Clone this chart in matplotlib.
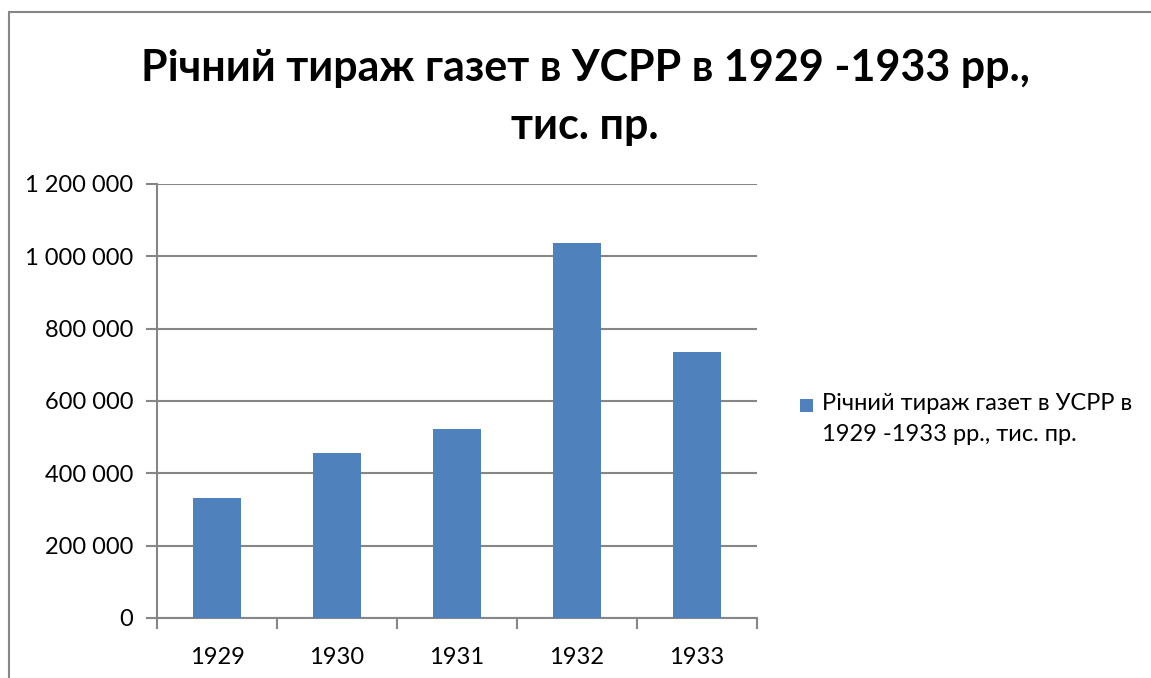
import matplotlib
matplotlib.use("Agg")
import matplotlib.pyplot as plt
from matplotlib.ticker import FuncFormatter, FixedLocator
from matplotlib.patches import Rectangle


TITLE = "Річний тираж газет в УСРР в 1929 -1933 рр.,\nтис. пр."
SERIES_NAME = "Річний тираж газет в УСРР в\n1929 -1933 рр., тис. пр."

years = ["1929", "1930", "1931", "1932", "1933"]
circulation = [333000, 455000, 523000, 1038000, 736000]

y_ticks = [0, 200000, 400000, 600000, 800000, 1000000, 1200000]

BAR_COLOR = "#4F81BD"
AXIS_GRAY = "#868686"

plt.rcParams["font.family"] = ["Lato", "DejaVu Sans"]


def space_thousands(v, pos):
    return f"{int(v):,}".replace(",", " ")


def main():
    fig = plt.figure(figsize=(11.51, 6.78), dpi=100)
    W, H = 1151, 678

    # outer chart frame (only left/top visible in the crop)
    fig.patches.append(Rectangle((9 / W, -0.1), 1.2, 1.1 - 12 / H,
                                 transform=fig.transFigure, fill=False,
                                 edgecolor=AXIS_GRAY, linewidth=1.5))

    left, right, top, bottom = 157, 757, 184, 618
    ax = fig.add_axes([left / W, 1 - bottom / H, (right - left) / W, (bottom - top) / H])

    x = list(range(len(years)))
    ax.bar(x, circulation, width=0.4, color=BAR_COLOR, zorder=3, label=SERIES_NAME)

    ax.set_xlim(-0.5, len(years) - 0.5)
    ax.set_ylim(0, 1200000)
    ax.set_yticks(y_ticks)
    ax.yaxis.set_major_formatter(FuncFormatter(space_thousands))
    ax.set_xticks(x)
    ax.set_xticklabels(years)
    ax.xaxis.set_minor_locator(FixedLocator([i - 0.5 for i in range(len(years) + 1)]))

    ax.grid(axis="y", color=AXIS_GRAY, linewidth=1.5, zorder=0)
    for side in ["top", "right"]:
        ax.spines[side].set_visible(False)
    for side in ["left", "bottom"]:
        ax.spines[side].set_color(AXIS_GRAY)
        ax.spines[side].set_linewidth(1.5)

    ax.tick_params(axis="y", length=8, width=1.5, color=AXIS_GRAY, pad=9, labelsize=17)
    ax.tick_params(axis="x", which="major", length=0, pad=21, labelsize=17)
    ax.tick_params(axis="x", which="minor", length=8, width=1.5, color=AXIS_GRAY)

    fig.text(585 / W, 1 - 97 / H, TITLE, ha="center", va="center",
             fontsize=31, fontweight="bold", linespacing=1.55)

    # legend: square key next to the first line of a two-line label
    fig.patches.append(Rectangle((800 / W, 1 - 412 / H), 13 / W, 13 / H,
                                 transform=fig.transFigure, facecolor=BAR_COLOR,
                                 edgecolor="none"))
    fig.text(822 / W, 1 - 419 / H, SERIES_NAME, ha="left", va="center",
             fontsize=17, linespacing=1.6)

    fig.savefig("out.png", dpi=100)
    plt.close(fig)


if __name__ == "__main__":
    main()
